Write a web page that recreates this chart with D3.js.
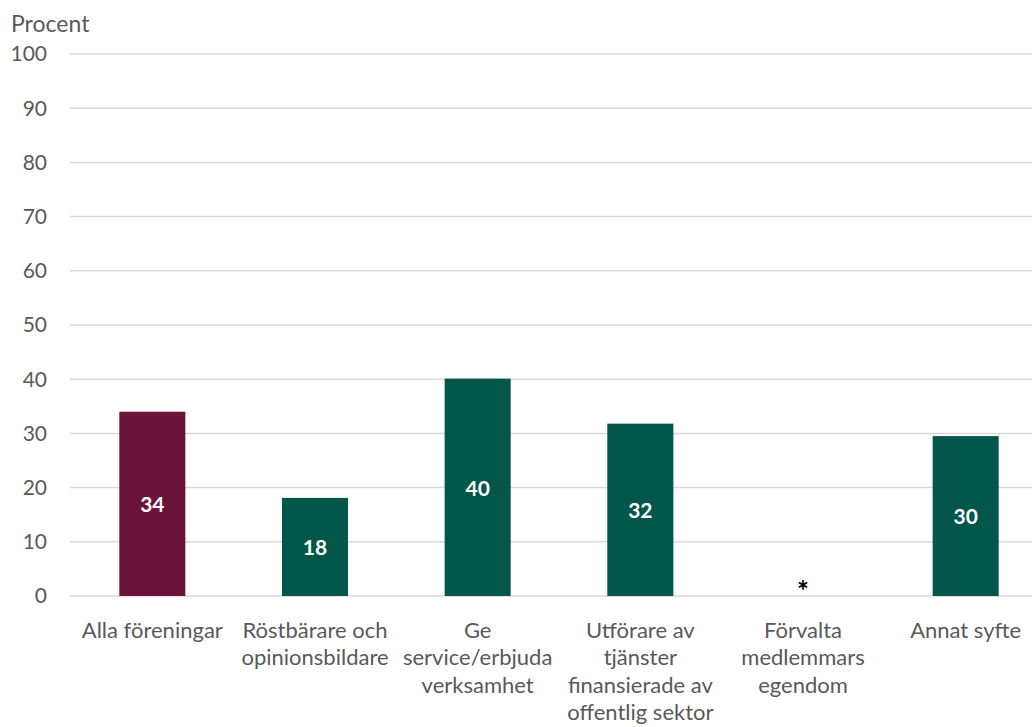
<!DOCTYPE html>
<html><head><meta charset="utf-8">
<script src="https://cdn.jsdelivr.net/npm/d3@7"></script>
<style>body{margin:0;background:#fff}svg{display:block}text{font-family:Lato,"Open Sans",sans-serif}</style>
</head><body><svg id="c" width="1032" height="727"></svg>
<script>
const categories = [
  ["Alla föreningar"],
  ["Röstbärare och", "opinionsbildare"],
  ["Ge", "service/erbjuda", "verksamhet"],
  ["Utförare av", "tjänster", "finansierade av", "offentlig sektor"],
  ["Förvalta", "medlemmars", "egendom"],
  ["Annat syfte"]
];
const values = [34.0, 18.1, 40.1, 31.8, null, 29.5];
const valueLabels = ["34", "18", "40", "32", "*", "30"];
const barColors = ["#6B1439", "#02564A", "#02564A", "#02564A", "#02564A", "#02564A"];
const yTicks = [0, 10, 20, 30, 40, 50, 60, 70, 80, 90, 100];
const yTitle = "Procent";

const svg = d3.select("#c");
const x = d3.scaleBand().domain(d3.range(categories.length)).range([71, 1047]).paddingInner(0.594).paddingOuter(0.297);
const y = d3.scaleLinear().domain([0, 100]).range([596, 54]);

svg.append("g").selectAll("line").data(yTicks).join("line")
  .attr("x1", 70).attr("x2", 1032)
  .attr("y1", d => y(d)).attr("y2", d => y(d))
  .attr("stroke", "#d9d9d9").attr("stroke-width", 1.5);

svg.append("g").selectAll("text").data(yTicks).join("text")
  .attr("x", 47).attr("y", d => y(d)).attr("dy", "0.35em")
  .attr("text-anchor", "end").attr("fill", "#595959").attr("font-size", 21)
  .text(d => d);

svg.append("text").attr("x", 11).attr("y", 24).attr("dy", "0.35em")
  .attr("fill", "#595959").attr("font-size", 23).text(yTitle);

const data = values.map((v, i) => ({v, i}));
svg.append("g").selectAll("rect").data(data.filter(d => d.v != null)).join("rect")
  .attr("x", d => x(d.i)).attr("width", x.bandwidth())
  .attr("y", d => y(d.v)).attr("height", d => y(0) - y(d.v))
  .attr("fill", d => barColors[d.i]);

svg.append("g").selectAll("text").data(data).join("text")
  .attr("x", d => x(d.i) + x.bandwidth() / 2)
  .attr("y", d => d.v != null ? (y(d.v) + y(0)) / 2 + 1 : y(0) - 10)
  .attr("dy", d => d.v != null ? "0.35em" : "0.55em")
  .attr("text-anchor", "middle")
  .attr("fill", d => d.v != null ? "#fff" : "#000")
  .attr("font-weight", "bold").attr("font-size", d => d.v != null ? 21 : 28)
  .text(d => valueLabels[d.i]);

const cat = svg.append("g").selectAll("text").data(categories).join("text")
  .attr("text-anchor", "middle").attr("fill", "#595959").attr("font-size", 22)
  .attr("x", (d, i) => x(i) + x.bandwidth() / 2).attr("y", 638);
cat.selectAll("tspan").data(d => d).join("tspan")
  .attr("x", function() { return this.parentNode.getAttribute("x"); })
  .attr("dy", (d, j) => j === 0 ? 0 : 27.4)
  .text(d => d);
</script></body></html>
